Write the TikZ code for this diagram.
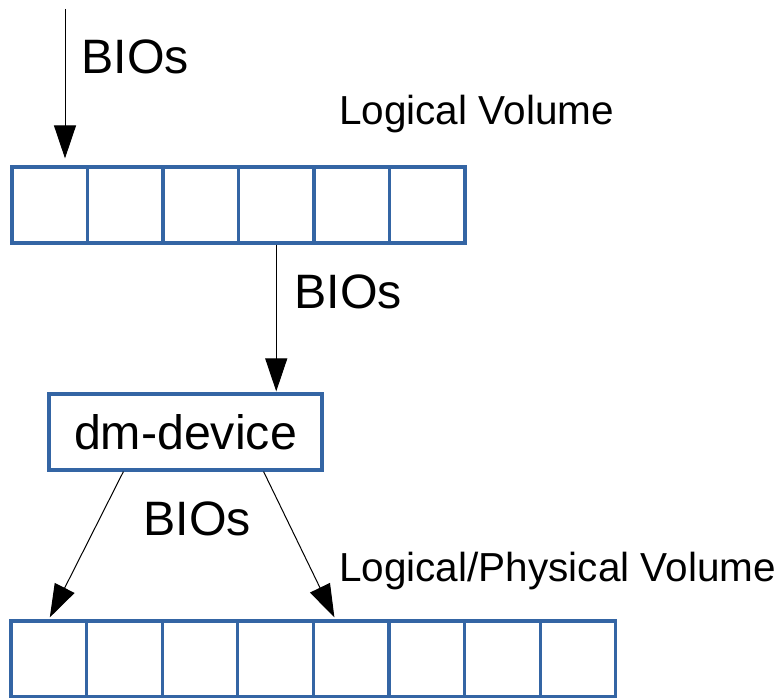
\documentclass[tikz,border=0pt]{standalone}
\usepackage{fontspec}
\setmainfont{Liberation Sans}
\usetikzlibrary{arrows.meta,calc}
\definecolor{cellblue}{HTML}{3465A4}
\begin{document}
\begin{tikzpicture}[x=1pt,y=-1pt,
  cellbox/.style={draw=cellblue, line width=3.2pt, rectangle, inner sep=0pt,
    minimum width=75.5pt, minimum height=76pt},
  devbox/.style={draw=cellblue, line width=3.2pt, rectangle, inner sep=0pt,
    minimum width=273pt, minimum height=76pt, font=\fontsize{48.3}{58}\selectfont},
  biglabel/.style={anchor=base west, inner sep=0pt, font=\fontsize{48.3}{58}\selectfont},
  smalllabel/.style={anchor=base west, inner sep=0pt, font=\fontsize{40.5}{48}\selectfont},
  flow/.style={draw=black, line width=1pt, -{Triangle[length=33pt,width=22pt]}}
]
\useasboundingbox (0,0) rectangle (777,698);

% logical volume: six extents
\foreach \i in {1,...,6}
  \node[cellbox] (t\i) at ({12+75.5*(\i-0.5)},205) {};

% mapped device
\node[devbox] (dm) at (185.5,432) {dm-device};

% underlying volume: eight extents
\foreach \i in {1,...,8}
  \node[cellbox, minimum width=75.6pt] (b\i) at ({11+75.6*(\i-0.5)},659) {};

% labels
\node[biglabel] (bio1) at (81.5,74) {BIOs};
\node[smalllabel] (lv) at (339,125) {Logical Volume};
\node[biglabel] (bio2) at (294.5,308) {BIOs};
\node[biglabel] (bio3) at (143.5,535) {BIOs};
\node[smalllabel] (pv) at (339,581) {Logical/Physical Volume};

% bio flow
\coordinate (src) at (65,9);
\draw[flow] (src) -- ($(t1.north -| src)+(0,-7)$);
\draw[flow] (t4.south) -- ($(t4.south |- dm.north)+(0,-1)$);
\draw[flow] ($(dm.south west)+(76,0)$) -- ($(b1.north)+(1,-2)$);
\draw[flow] ($(dm.south east)+(-60,0)$) -- ($(b5.north west)+(22.6,-2)$);
\end{tikzpicture}
\end{document}
